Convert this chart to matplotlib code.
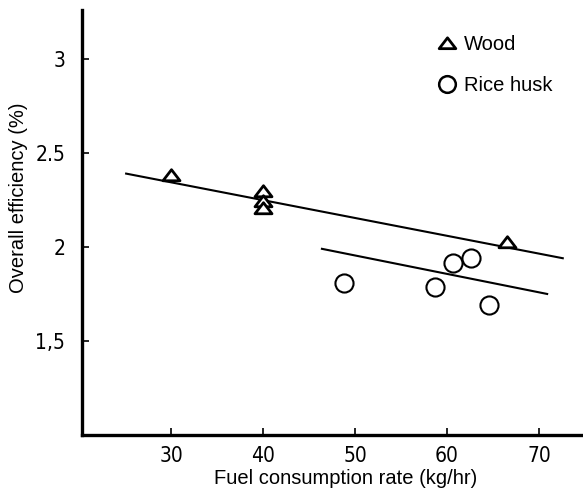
import matplotlib
matplotlib.use("Agg")
import matplotlib.pyplot as plt
from matplotlib.lines import Line2D
from matplotlib.path import Path

# Data
wood_x = [30, 40, 40, 40, 66.5]
wood_y = [2.385, 2.295, 2.245, 2.205, 2.025]
rice_x = [48.8, 58.7, 60.7, 62.6, 64.6]
rice_y = [1.81, 1.785, 1.915, 1.94, 1.69]
wood_fit_x = [25.1, 72.6]
wood_fit_y = [2.39, 1.94]
rice_fit_x = [46.4, 70.9]
rice_fit_y = [1.99, 1.75]
xticks = [30, 40, 50, 60, 70]
xticklabels = ["30", "40", "50", "60", "70"]
yticks = [1.5, 2, 2.5, 3]
yticklabels = ["1,5", "2", "2.5", "3"]

tri = Path([(-1, -0.62), (1, -0.62), (0, 0.68), (-1, -0.62)],
           [Path.MOVETO, Path.LINETO, Path.LINETO, Path.CLOSEPOLY])

fig = plt.figure(figsize=(5.83, 4.95), dpi=100)
ax = fig.add_axes([82/583, 60/495, (583-82)/583, (435-10)/495])

ax.plot(wood_fit_x, wood_fit_y, color="black", lw=1.5, zorder=1)
ax.plot(rice_fit_x, rice_fit_y, color="black", lw=1.5, zorder=1)
ax.scatter(wood_x, wood_y, marker=tri, s=150, facecolors="white",
           edgecolors="black", linewidths=2.0, zorder=3)
ax.scatter(rice_x, rice_y, marker="o", s=170, facecolors="white",
           edgecolors="black", linewidths=1.5, zorder=3)

ax.set_xlim(20.3, 74.8)
ax.set_ylim(1.0, 3.26)
for s in ["top", "right"]:
    ax.spines[s].set_visible(False)
for s in ["left", "bottom"]:
    ax.spines[s].set_linewidth(2.4)

tickfont = ["DejaVu Sans"]
ax.set_xticks(xticks)
ax.set_xticklabels(xticklabels, fontsize=15, family=tickfont, stretch="condensed")
ax.set_yticks(yticks)
ax.set_yticklabels(yticklabels, fontsize=15, family=tickfont, stretch="condensed")
ax.tick_params(direction="in", length=5, width=1.2)
ax.tick_params(axis="x", pad=8)
ax.tick_params(axis="y", pad=12)

labfont = ["Liberation Sans", "DejaVu Sans"]
ax.set_xlabel("Fuel consumption rate (kg/hr)", fontsize=14.5, family=labfont)
ax.xaxis.set_label_coords((346-82)/501, -(478-435)/425)
ax.xaxis.label.set_va("center")
ax.set_ylabel("Overall efficiency (%)", fontsize=14.5, family=labfont)
ax.yaxis.set_label_coords(-(82-18)/501, (435-198)/425)
ax.yaxis.label.set_va("center")

handles = [
    Line2D([], [], marker=tri, ls="none", markersize=12, markerfacecolor="white",
           markeredgecolor="black", markeredgewidth=2.0, label="Wood"),
    Line2D([], [], marker="o", ls="none", markersize=12, markerfacecolor="white",
           markeredgecolor="black", markeredgewidth=1.8, label="Rice husk"),
]
leg = ax.legend(handles=handles, loc="upper left", bbox_to_anchor=((435-82)/501, (435-35)/425),
                frameon=False, prop={"family": labfont, "size": 14.5},
                handletextpad=0.25, labelspacing=1.1, handlelength=1.2,
                borderpad=0, borderaxespad=0)

fig.savefig("out.png", dpi=100)
